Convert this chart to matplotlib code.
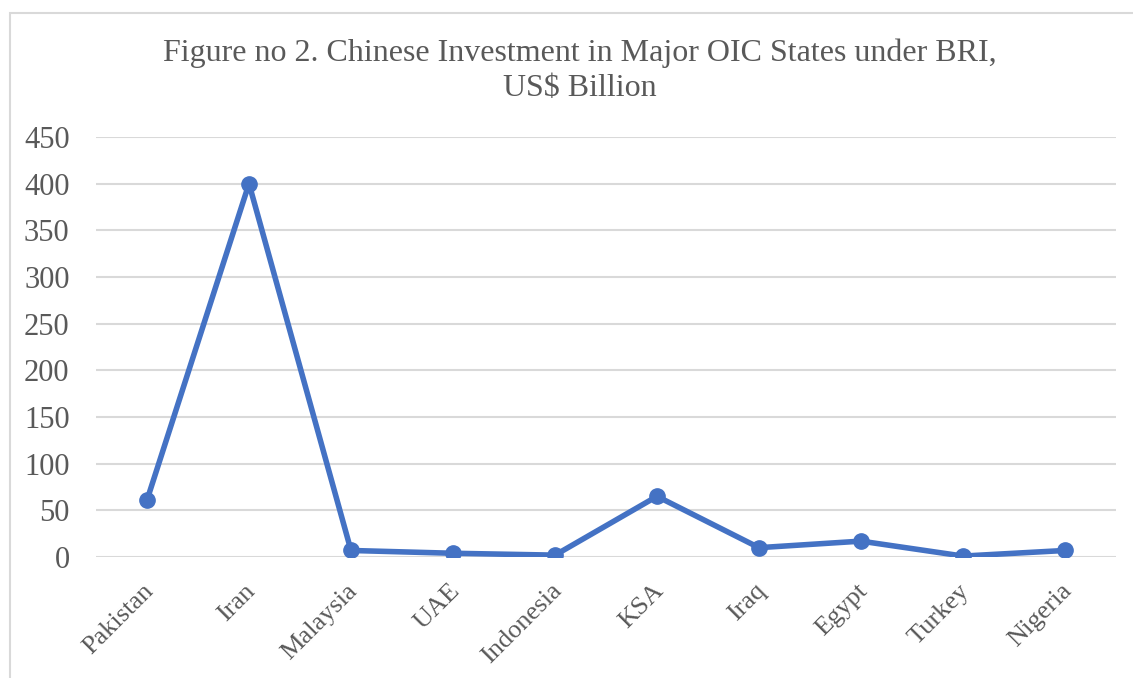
import matplotlib
matplotlib.use("Agg")
import matplotlib.pyplot as plt
import matplotlib.transforms as mtransforms
from matplotlib.patches import Rectangle

countries = ["Pakistan", "Iran", "Malaysia", "UAE", "Indonesia", "KSA", "Iraq", "Egypt", "Turkey", "Nigeria"]
investment = [61, 400, 7, 4, 2, 65, 10, 17, 1, 7]
yticks = [0, 50, 100, 150, 200, 250, 300, 350, 400, 450]
title = "Figure no 2. Chinese Investment in Major OIC States under BRI,\nUS$ Billion"

plt.rcParams['font.family'] = ['Liberation Serif', 'DejaVu Serif']
W, H = 1133, 678
fig = plt.figure(figsize=(W/100, H/100), dpi=100)

# outer chart frame
fig.patches.append(Rectangle((10/W, -0.1), 1.2, 1 - 13/H + 0.1, transform=fig.transFigure,
                             fill=False, edgecolor="#d9d9d9", linewidth=1.5))

ax = fig.add_axes([96/W, 1 - 557/H, (1116-96)/W, (557-137)/H])
x = list(range(len(countries)))
ax.plot(x, investment, color="#4472C4", linewidth=4.0, marker="o", markersize=11,
        solid_capstyle="round", zorder=3)
ax.set_xlim(-0.5, len(countries) - 0.5)
ax.set_ylim(0, 450)
ax.set_yticks(yticks)
ax.set_yticklabels([str(v) for v in yticks])
ax.set_xticks(x)
ax.set_xticklabels(countries, rotation=45, ha="right", va="center", rotation_mode="anchor")
ax.yaxis.grid(True, color="#d9d9d9", linewidth=1.5)
ax.set_axisbelow(True)
for s in ax.spines.values():
    s.set_visible(False)
ax.tick_params(axis="y", length=0, labelsize=22, labelcolor="#595959", pad=19)
ax.tick_params(axis="x", length=0, labelsize=19, labelcolor="#595959", pad=22)
offset = mtransforms.ScaledTranslation(3/100, 0, fig.dpi_scale_trans)
for lab in ax.get_xticklabels():
    lab.set_transform(lab.get_transform() + offset)

fig.text(0.512, 1 - 71/H, title, ha="center", va="center", fontsize=23,
         color="#595959", linespacing=1.28)

fig.savefig("out.png", dpi=100)
